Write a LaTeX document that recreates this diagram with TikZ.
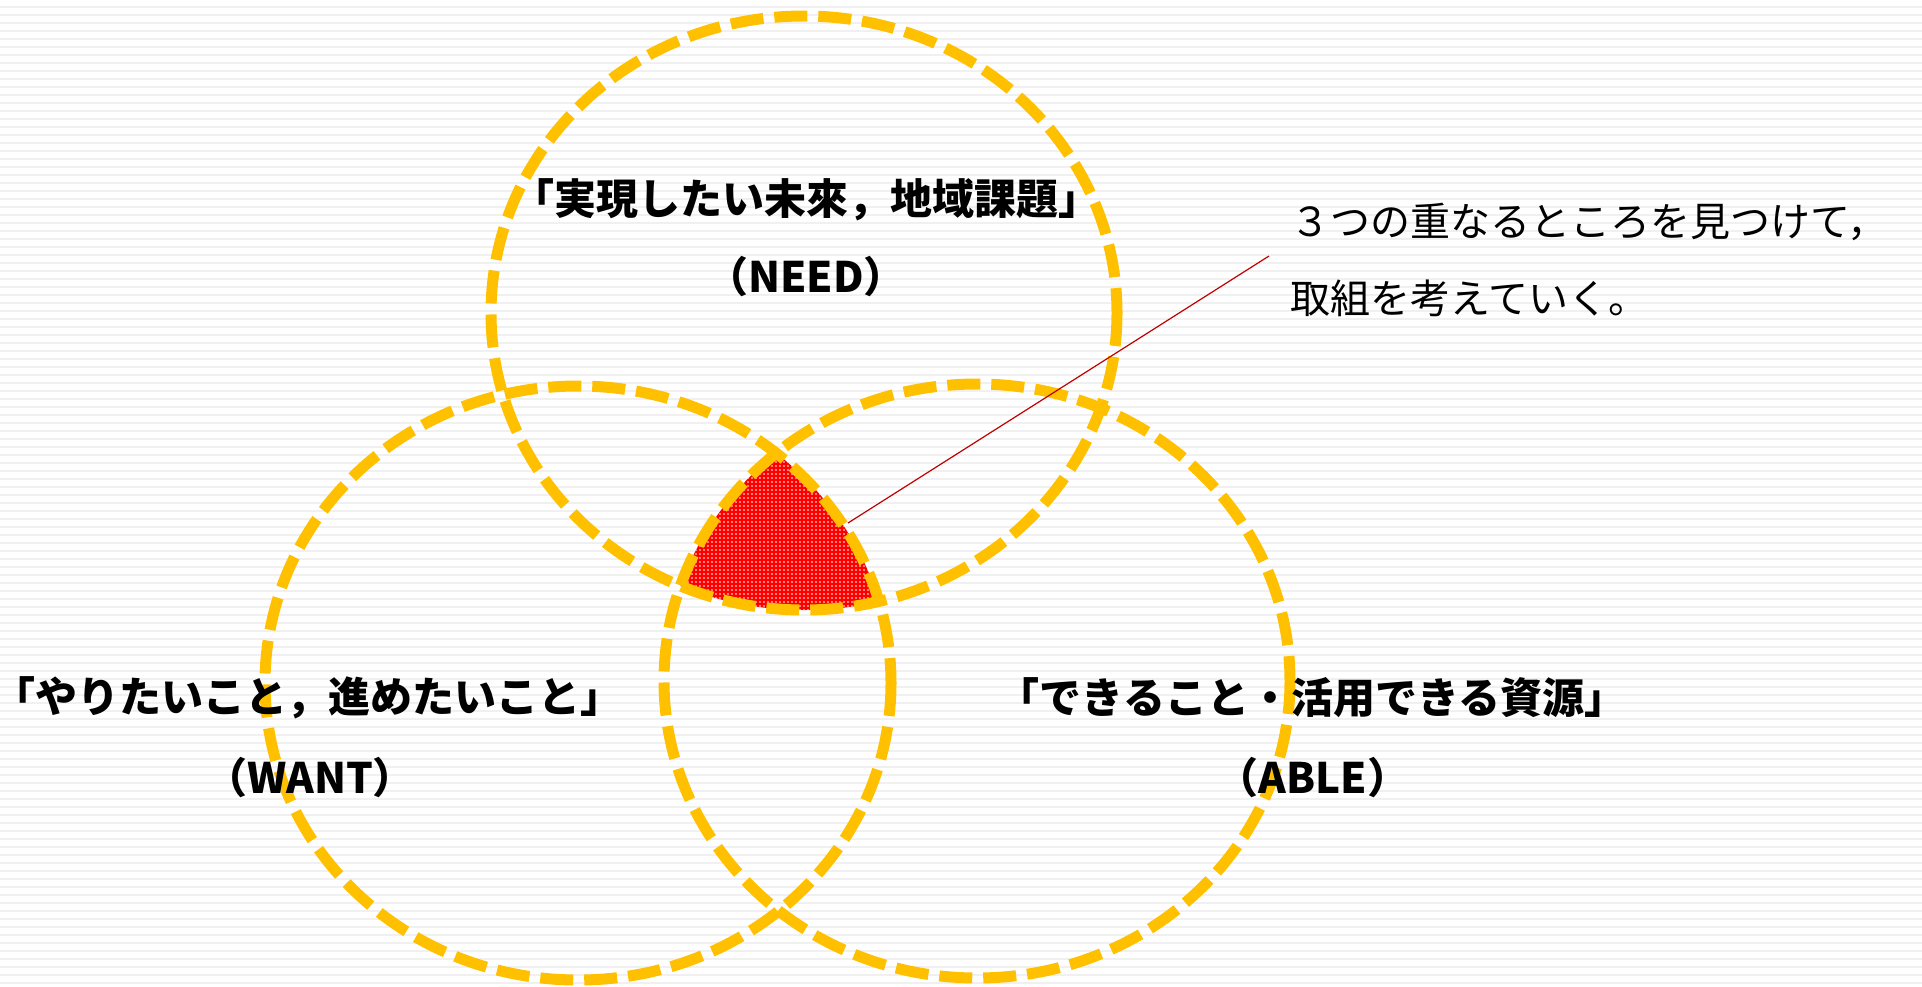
\documentclass[tikz,border=0pt]{standalone}
\usepackage{fontspec}
\setmainfont{Noto Sans CJK JP}
\usetikzlibrary{patterns}
\definecolor{ringyellow}{HTML}{FFC000}
\definecolor{stripegray}{HTML}{F0F0F0}
\definecolor{leadred}{HTML}{C00000}
\pgfdeclarepatternformonly{spotdots}{\pgfqpoint{-1pt}{-1pt}}{\pgfqpoint{1pt}{1pt}}{\pgfqpoint{4pt}{4pt}}{%
  \pgfpathcircle{\pgfqpoint{0pt}{0pt}}{0.8pt}\pgfusepath{fill}}
\begin{document}
\begin{tikzpicture}[
  x=1pt, y=-1pt,
  ring/.style={draw=ringyellow, line width=11pt, dash pattern=on 33pt off 11pt},
  title/.style={font=\fontsize{42}{50}\selectfont\bfseries, inner sep=0pt},
  note/.style={font=\fontsize{40}{77}\selectfont, align=left, inner sep=0pt},
  leader/.style={draw=leadred, line width=1.2pt}
]
\useasboundingbox (0,0) rectangle (1922,986);

% Background
\foreach \y in {6,14,...,982}
  \fill[stripegray] (0,\y) rectangle (1922,\y+2);

\coordinate (needc) at (804,313);
\coordinate (wantc) at (578,683);
\coordinate (ablec) at (977,681);

% Overlap
\begin{scope}
  \clip (needc) ellipse [x radius=313, y radius=297];
  \clip (wantc) ellipse [x radius=313, y radius=297];
  \fill[red] (ablec) ellipse [x radius=313, y radius=297];
  \fill[pattern=spotdots, pattern color=white] (ablec) ellipse [x radius=313, y radius=297];
\end{scope}

% Circles
\draw[ring] (needc) ellipse [x radius=313, y radius=297];
\draw[ring] (wantc) ellipse [x radius=313, y radius=297];
\draw[ring] (ablec) ellipse [x radius=313, y radius=297];

% Labels
\node[title] (needtitle) at (806,200) {「実現したい未來，地域課題」};
\node[title] (needsub) at (806,277) {（NEED）};
\node[title] (wanttitle) at (308,698) {「やりたいこと，進めたいこと」};
\node[title] (wantsub) at (310,778) {（WANT）};
\node[title] (abletitle) at (1312,698) {「できること・活用できる資源」};
\node[title] (ablesub) at (1313,778) {（ABLE）};

% Note
\node[note, anchor=west] (note) at (1290,260) {３つの重なるところを見つけて，\\取組を考えていく。};
\coordinate (spot) at (848,523);
\coordinate (tip) at (1269,256);
\draw[leader] (spot) -- (tip);

\end{tikzpicture}
\end{document}
